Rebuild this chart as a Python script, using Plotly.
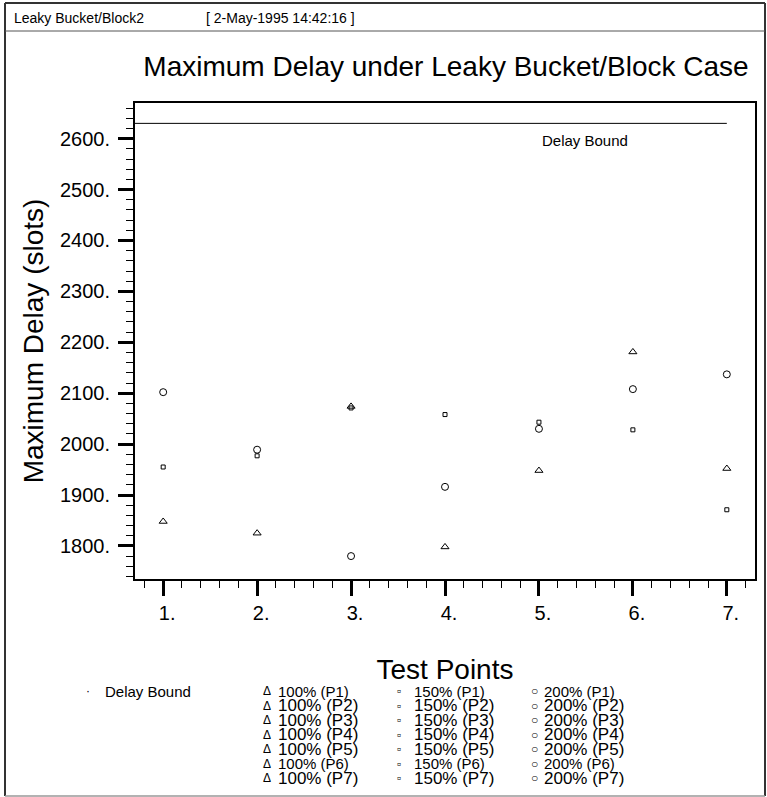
import plotly.graph_objects as go

# ---- data -------------------------------------------------------------
test_points = [1, 2, 3, 4, 5, 6, 7]
x_tick_labels = ["1.", "2.", "3.", "4.", "5.", "6.", "7."]

delay_100 = [1848, 1825, 2074, 1798, 1948, 2181, 1952]   # 100% load
delay_150 = [1955, 1977, 2071, 2058, 2043, 2028, 1871]   # 150% load
delay_200 = [2102, 1989, 1780, 1916, 2030, 2108, 2137]   # 200% load

bound_x = [0.7, 7.0]
bound_y = [2630, 2630]

y_tick_vals = [1800, 1900, 2000, 2100, 2200, 2300, 2400, 2500, 2600]
y_tick_labels = ["1800.", "1900.", "2000.", "2100.", "2200.",
                 "2300.", "2400.", "2500.", "2600."]

legend_rows = ["P1", "P2", "P3", "P4", "P5", "P6", "P7"]
legend_groups = ["100%", "150%", "200%"]
legend_symbols = ["\u0394", "\u25ab", "\u25cb"]

# ---- page geometry (pixels) ------------------------------------------
W, H = 767, 797
PL, PR, PT, PB = 135, 755, 103, 579
FONT = "Liberation Sans, Arial, sans-serif"


def px(x):
    return (x - PL) / (PR - PL)


def py(y):
    return (PB - y) / (PB - PT)


fig = go.Figure()

fig.add_trace(go.Scatter(
    x=bound_x, y=bound_y, mode="lines",
    line=dict(color="black", width=1), showlegend=False,
    hoverinfo="skip"))

marker_styles = [
    ("100%", delay_100, "triangle-up-open", 7),
    ("150%", delay_150, "square-open", 4),
    ("200%", delay_200, "circle-open", 7),
]
for name, vals, sym, size in marker_styles:
    fig.add_trace(go.Scatter(
        x=test_points, y=vals, mode="markers", name=name,
        marker=dict(symbol=sym, size=size, color="black",
                    line=dict(color="black", width=1)),
        showlegend=False))

# ---- annotations ------------------------------------------------------
ann = []
# header strip
ann.append(dict(text="Leaky Bucket/Block2", x=px(12), y=py(18),
                xanchor="left", yanchor="middle", font=dict(size=14)))
ann.append(dict(text="[ 2-May-1995 14:42:16 ]", x=px(204), y=py(18),
                xanchor="left", yanchor="middle", font=dict(size=14)))
# label on the bound line
ann.append(dict(text="Delay Bound", x=5.49, y=2597, xref="x", yref="y",
                xanchor="center", yanchor="middle", font=dict(size=15)))

# legend block under the axis
row_y0, row_dy = 691, 14.5
ann.append(dict(text="\u00b7", x=px(88), y=py(row_y0), xanchor="center",
                yanchor="middle", font=dict(size=12)))
ann.append(dict(text="Delay Bound", x=px(103), y=py(row_y0), xanchor="left",
                yanchor="middle", font=dict(size=15)))
sym_x = [267, 399, 534]
txt_x = [276, 412, 542]
for g, (grp, sym) in enumerate(zip(legend_groups, legend_symbols)):
    for r, row in enumerate(legend_rows):
        yy = py(row_y0 + r * row_dy)
        fs = 15 if row in ("P1", "P6") else 17
        ann.append(dict(text=sym, x=px(sym_x[g]), y=yy, xanchor="center",
                        yanchor="middle", font=dict(size=12)))
        ann.append(dict(text=f"{grp} ({row})", x=px(txt_x[g]), y=yy,
                        xanchor="left", yanchor="middle",
                        font=dict(size=fs)))

for a in ann:
    a.setdefault("xref", "paper")
    a.setdefault("yref", "paper")
    a["showarrow"] = False

# ---- page frame -------------------------------------------------------
shapes = [
    dict(type="line", x0=px(5), x1=px(5), y0=py(3), y1=py(796),
         line=dict(color="#333", width=2)),
    dict(type="line", x0=px(765), x1=px(765), y0=py(3), y1=py(796),
         line=dict(color="#333", width=2)),
    dict(type="line", x0=px(5), x1=px(765), y0=py(3), y1=py(3),
         line=dict(color="#333", width=2)),
    dict(type="line", x0=px(5), x1=px(765), y0=py(796), y1=py(796),
         line=dict(color="#999", width=1.5)),
    dict(type="line", x0=px(5), x1=px(765), y0=py(31), y1=py(31),
         line=dict(color="#555", width=1)),
]
for s in shapes:
    s["xref"] = "paper"
    s["yref"] = "paper"

fig.update_layout(
    width=W, height=H,
    margin=dict(l=PL, r=W - PR, t=PT, b=H - PB, autoexpand=False),
    paper_bgcolor="white", plot_bgcolor="white",
    font=dict(family=FONT, color="black"),
    title=dict(text="Maximum Delay under Leaky Bucket/Block Case",
               font=dict(size=28), xref="container", yref="container",
               x=446 / W, y=1 - 66 / H, xanchor="center", yanchor="middle"),
    annotations=ann, shapes=shapes,
    showlegend=False,
)

fig.update_xaxes(
    range=[0.7, 7.3], tickmode="array", tickvals=test_points,
    ticktext=x_tick_labels, ticks="outside", ticklen=15, tickwidth=3,
    tickcolor="black", tickfont=dict(size=20), ticklabelshift=4,
    ticklabelstandoff=0,
    minor=dict(ticks="outside", ticklen=7, tickwidth=1, tickcolor="black",
               tickmode="linear", tick0=0.8, dtick=0.2, showgrid=False),
    showline=True, linecolor="black", linewidth=2, mirror=True,
    showgrid=False, zeroline=False,
    title=dict(text="Test Points", font=dict(size=28), standoff=36),
)
fig.update_yaxes(
    range=[1735, 2670], tickmode="array", tickvals=y_tick_vals,
    ticktext=y_tick_labels, ticks="outside", ticklen=15, tickwidth=3,
    tickcolor="black", tickfont=dict(size=20), ticklabelstandoff=4,
    minor=dict(ticks="outside", ticklen=7, tickwidth=1, tickcolor="black",
               tickmode="linear", tick0=1800, dtick=20, showgrid=False),
    showline=True, linecolor="black", linewidth=2, mirror=True,
    showgrid=False, zeroline=False,
    title=dict(text="Maximum Delay (slots)", font=dict(size=28), standoff=8),
)

fig.write_html("out.html")
